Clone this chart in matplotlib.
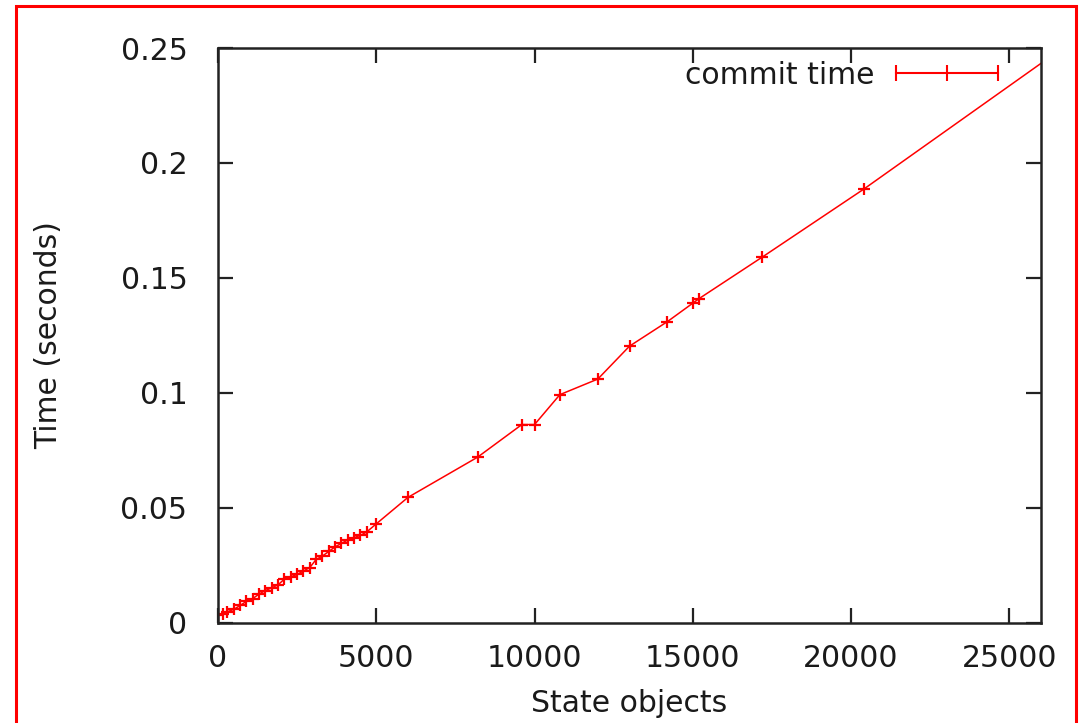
import matplotlib
matplotlib.use("Agg")
import matplotlib.pyplot as plt
from matplotlib.patches import Rectangle
from matplotlib.lines import Line2D

# Data
state_objects = [0, 150, 300, 500, 700, 900, 1100, 1300, 1500, 1700, 1900, 2100,
                 2300, 2500, 2700, 2900, 3100, 3300, 3500, 3700, 3900, 4100, 4300,
                 4500, 4700, 5000, 6000, 8200, 9600, 10000, 10800, 12000, 13000,
                 14200, 15000, 15200, 17200, 20400, 30000]
commit_time = [0.0033, 0.0040, 0.0048, 0.0058, 0.0075, 0.0093, 0.0105, 0.0125,
               0.0140, 0.0152, 0.0165, 0.0190, 0.0200, 0.0210, 0.0225, 0.0240,
               0.0275, 0.0290, 0.0310, 0.0330, 0.0345, 0.0360, 0.0370, 0.0380,
               0.0395, 0.0430, 0.0545, 0.0720, 0.0862, 0.0862, 0.0992, 0.1060,
               0.1203, 0.1310, 0.1390, 0.1410, 0.1591, 0.1886, 0.2824]
x_ticks = [0, 5000, 10000, 15000, 20000, 25000]
y_ticks = [0, 0.05, 0.1, 0.15, 0.2, 0.25]
y_tick_labels = ["0", "0.05", "0.1", "0.15", "0.2", "0.25"]
series_label = "commit time"
x_label = "State objects"
y_label = "Time (seconds)"

plt.rcParams['font.family'] = ['DejaVu Sans']
FS = 21.5
TXT = '#1a1a1a'
fig = plt.figure(figsize=(10.8, 7.23), dpi=100)
ax = fig.add_axes([218/1080, 1-622.7/723, (1041-218)/1080, (622.7-48)/723])

ax.plot(state_objects, commit_time, color='red', linewidth=1.1, marker='+',
        markersize=9, markeredgewidth=1.6, clip_on=True)

ax.set_xlim(0, 26000)
ax.set_ylim(0, 0.25)
ax.set_xticks(x_ticks)
ax.set_xticklabels([str(v) for v in x_ticks])
ax.set_yticks(y_ticks)
ax.set_yticklabels(y_tick_labels)

edge = '#222222'
for s in ax.spines.values():
    s.set_linewidth(1.8)
    s.set_color(edge)
ax.tick_params(direction='in', length=11, width=1.6, color=edge, labelsize=FS,
               labelcolor=TXT, top=True, right=True)
ax.tick_params(axis='x', pad=15)
ax.tick_params(axis='y', pad=22)

ax.set_xlabel(x_label, fontsize=FS, color=TXT, labelpad=12)
ax.set_ylabel(y_label, fontsize=FS, color=TXT, labelpad=41)

handle = Line2D([], [], color='red', linewidth=1.5, marker='|', markersize=11,
                markeredgewidth=1.5)
leg = ax.legend([handle], [series_label], loc='upper right', frameon=False,
                numpoints=3, markerfirst=False, fontsize=FS, handlelength=4.0,
                handletextpad=0.42, bbox_to_anchor=(0.973, 0.999),
                borderaxespad=0.0)
for t in leg.get_texts():
    t.set_color(TXT)

# red frame around the figure (bottom edge falls outside the picture)
fig.patches.append(Rectangle((16/1080, -0.05), (1076-16)/1080, 1-6/723+0.05,
                             transform=fig.transFigure, fill=False,
                             edgecolor='red', linewidth=2.2))

fig.savefig("out.png", dpi=100)
